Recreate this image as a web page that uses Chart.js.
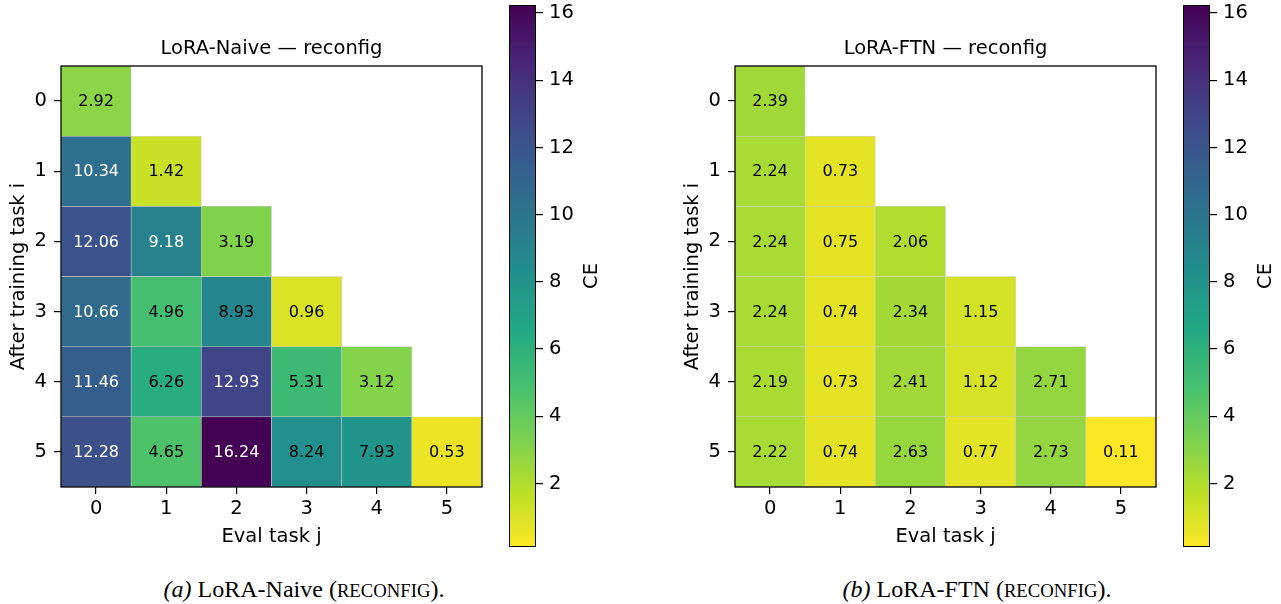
<!DOCTYPE html>
<html><head><meta charset="utf-8">
<script src="https://cdn.jsdelivr.net/npm/chart.js@4.4.1/dist/chart.umd.min.js"></script>
<style>
html,body{margin:0;padding:0;background:#fff;width:1281px;height:604px;overflow:hidden;position:relative}
canvas{position:absolute;top:0}
.cap{position:absolute;top:575px;font-family:'Liberation Serif','Times New Roman',serif;font-size:24px;line-height:28px;color:#000;text-align:center;white-space:nowrap}
.sc{text-transform:uppercase;font-size:0.78em}
</style></head><body>
<canvas id="hmA" width="500" height="560" style="left:0px;width:500px;height:560px"></canvas>
<canvas id="cbA" width="120" height="560" style="left:500px;width:120px;height:560px"></canvas>
<canvas id="hmB" width="500" height="560" style="left:674px;width:500px;height:560px"></canvas>
<canvas id="cbB" width="107" height="560" style="left:1174px;width:107px;height:560px"></canvas>
<div class="cap" style="left:104px;width:400px"><i>(a)</i> LoRA-Naive (<span class="sc">reconfig</span>).</div>
<div class="cap" style="left:777px;width:400px"><i>(b)</i> LoRA-FTN (<span class="sc">reconfig</span>).</div>
<script>
// ---- data ----
const taskLabels = [0, 1, 2, 3, 4, 5];
const naiveAfter0 = [2.92];
const naiveAfter1 = [10.34, 1.42];
const naiveAfter2 = [12.06, 9.18, 3.19];
const naiveAfter3 = [10.66, 4.96, 8.93, 0.96];
const naiveAfter4 = [11.46, 6.26, 12.93, 5.31, 3.12];
const naiveAfter5 = [12.28, 4.65, 16.24, 8.24, 7.93, 0.53];
const ftnAfter0 = [2.39];
const ftnAfter1 = [2.24, 0.73];
const ftnAfter2 = [2.24, 0.75, 2.06];
const ftnAfter3 = [2.24, 0.74, 2.34, 1.15];
const ftnAfter4 = [2.19, 0.73, 2.41, 1.12, 2.71];
const ftnAfter5 = [2.22, 0.74, 2.63, 0.77, 2.73, 0.11];
const colorbarTicks = [2, 4, 6, 8, 10, 12, 14, 16];
const naiveTitle = 'LoRA-Naive — reconfig';
const ftnTitle = 'LoRA-FTN — reconfig';
const xTitle = 'Eval task j';
const yTitle = 'After training task i';
const cbTitle = 'CE';

const naiveRows = [naiveAfter0, naiveAfter1, naiveAfter2, naiveAfter3, naiveAfter4, naiveAfter5];
const ftnRows = [ftnAfter0, ftnAfter1, ftnAfter2, ftnAfter3, ftnAfter4, ftnAfter5];
const allVals = naiveRows.concat(ftnRows).flat();
const cbMin = Math.min(...allVals);
const cbMax = Math.max(...allVals);

// ---- style ----
const FONT = "'DejaVu Sans', sans-serif";
const FS = 19.5;
Chart.defaults.font.family = FONT;
Chart.defaults.color = '#000';
const VIRIDIS = ['#440154','#482475','#414487','#355f8d','#2a788e','#21918c','#22a884','#44bf70','#7ad151','#bddf26','#fde725'];
function hexRgb(h){return [parseInt(h.slice(1,3),16),parseInt(h.slice(3,5),16),parseInt(h.slice(5,7),16)];}
function viridis(t){
  t = Math.max(0, Math.min(1, t));
  const p = t * (VIRIDIS.length - 1);
  const i = Math.min(Math.floor(p), VIRIDIS.length - 2);
  const f = p - i;
  const a = hexRgb(VIRIDIS[i]), b = hexRgb(VIRIDIS[i+1]);
  const c = a.map((v,k)=>Math.round(v + (b[k]-v)*f));
  return `rgb(${c[0]},${c[1]},${c[2]})`;
}
function norm(v){return (v - cbMin) / (cbMax - cbMin);}
function colorFor(v){return viridis(1 - norm(v));} // reversed viridis

function makeHeatmap(id, rows, titleText){
  const datasets = rows.map((row, i) => ({
    label: 'after ' + i,
    data: taskLabels.map((t, j) => j < row.length ? [taskLabels[i] - 0.5, taskLabels[i] + 0.5] : null),
    backgroundColor: taskLabels.map((t, j) => j < row.length ? colorFor(row[j]) : 'rgba(0,0,0,0)'),
    borderColor: 'rgba(200,200,200,0.85)',
    borderWidth: 0.6,
    borderSkipped: false,
    barPercentage: 1,
    categoryPercentage: 1,
    grouped: false
  }));
  const cellText = {
    id: 'cellText',
    afterDatasetsDraw(chart){
      const ctx = chart.ctx;
      ctx.save();
      ctx.font = `16px ${FONT}`;
      ctx.textAlign = 'center';
      ctx.textBaseline = 'middle';
      rows.forEach((row, i) => {
        const meta = chart.getDatasetMeta(i);
        row.forEach((v, j) => {
          const el = meta.data[j];
          ctx.fillStyle = norm(v) > 0.55 ? '#ffffff' : '#000000';
          ctx.fillText(v.toFixed(2), el.x, (el.y + el.base) / 2 + 1);
        });
      });
      ctx.restore();
    }
  };
  const frame = {
    id: 'frame',
    afterDraw(chart){
      const {ctx, chartArea: ca} = chart;
      ctx.save();
      ctx.strokeStyle = '#000';
      ctx.lineWidth = 1.3;
      ctx.strokeRect(ca.left, ca.top, ca.right - ca.left, ca.bottom - ca.top);
      ctx.restore();
    }
  };
  const gridOpts = {display: true, offset: false, drawOnChartArea: false, drawTicks: true, tickLength: 7, color: '#000', lineWidth: 1.2};
  return new Chart(document.getElementById(id), {
    type: 'bar',
    data: {labels: taskLabels.map(String), datasets},
    options: {
      responsive: false, animation: false, devicePixelRatio: 1,
      layout: {padding: {left: 0, right: 18, top: 0, bottom: 0}},
      plugins: {
        legend: {display: false}, tooltip: {enabled: false},
        title: {display: true, text: titleText, fullSize: false, color: '#000',
                font: {size: FS, weight: 'normal', family: FONT}, padding: {top: 37.3, bottom: 5.3}}
      },
      scales: {
        x: {
          type: 'category', offset: true,
          grid: gridOpts, border: {display: false},
          ticks: {font: {size: FS}, color: '#000', padding: 3, maxRotation: 0},
          title: {display: true, text: xTitle, color: '#000', font: {size: FS}, padding: {top: 0, bottom: 11.3}},
          afterFit: s => { s.height = 73; }
        },
        y: {
          type: 'linear', reverse: true, min: -0.5, max: 5.5,
          grid: gridOpts, border: {display: false},
          ticks: {font: {size: FS}, color: '#000', padding: 7},
          afterBuildTicks: s => { s.ticks = taskLabels.map(v => ({value: v})); },
          title: {display: true, text: yTitle, color: '#000', font: {size: FS}, padding: {top: 6.8, bottom: 0}},
          afterFit: s => { s.width = 61; s.paddingTop = 0; s.paddingBottom = 0; }
        }
      }
    },
    plugins: [cellText, frame]
  });
}

function makeColorbar(id, padLeft, axisWidth){
  const ceLabel = {
    id: 'ceLabel',
    afterDraw(chart){
      const {ctx, chartArea: ca} = chart;
      ctx.save();
      ctx.translate(ca.right + 55.5, (ca.top + ca.bottom) / 2);
      ctx.rotate(-Math.PI / 2);
      ctx.font = `${FS}px ${FONT}`;
      ctx.fillStyle = '#000';
      ctx.textAlign = 'center';
      ctx.textBaseline = 'middle';
      ctx.fillText(cbTitle, 0, 0);
      ctx.restore();
    }
  };
  return new Chart(document.getElementById(id), {
    type: 'bar',
    data: {labels: [cbTitle], datasets: [{
      data: [[cbMin, cbMax]],
      backgroundColor: (c) => {
        const chart = c.chart;
        if (!chart.chartArea) return '#888';
        const ys = chart.scales.y;
        const g = chart.ctx.createLinearGradient(0, ys.getPixelForValue(cbMin), 0, ys.getPixelForValue(cbMax));
        for (let k = 0; k <= 40; k++) { g.addColorStop(k / 40, viridis(1 - k / 40)); }
        return g;
      },
      borderColor: '#000', borderWidth: 1.3, borderSkipped: false,
      barPercentage: 1, categoryPercentage: 1
    }]},
    options: {
      responsive: false, animation: false, devicePixelRatio: 1,
      layout: {padding: {left: padLeft, right: 0, top: 5, bottom: 13}},
      plugins: {legend: {display: false}, tooltip: {enabled: false}},
      scales: {
        x: {display: false, offset: true},
        y: {
          type: 'linear', position: 'right', min: cbMin, max: cbMax,
          grid: {drawOnChartArea: false, drawTicks: true, tickLength: 7, color: '#000', lineWidth: 1.2},
          border: {display: false},
          ticks: {font: {size: FS}, color: '#000', padding: 6},
          afterBuildTicks: s => { s.ticks = colorbarTicks.map(v => ({value: v})); },
          afterFit: s => { s.width = axisWidth; s.paddingTop = 0; s.paddingBottom = 0; }
        }
      }
    },
    plugins: [ceLabel]
  });
}

makeHeatmap('hmA', naiveRows, naiveTitle);
makeColorbar('cbA', 9, 84);
makeHeatmap('hmB', ftnRows, ftnTitle);
makeColorbar('cbB', 9, 71);
</script>
</body></html>
